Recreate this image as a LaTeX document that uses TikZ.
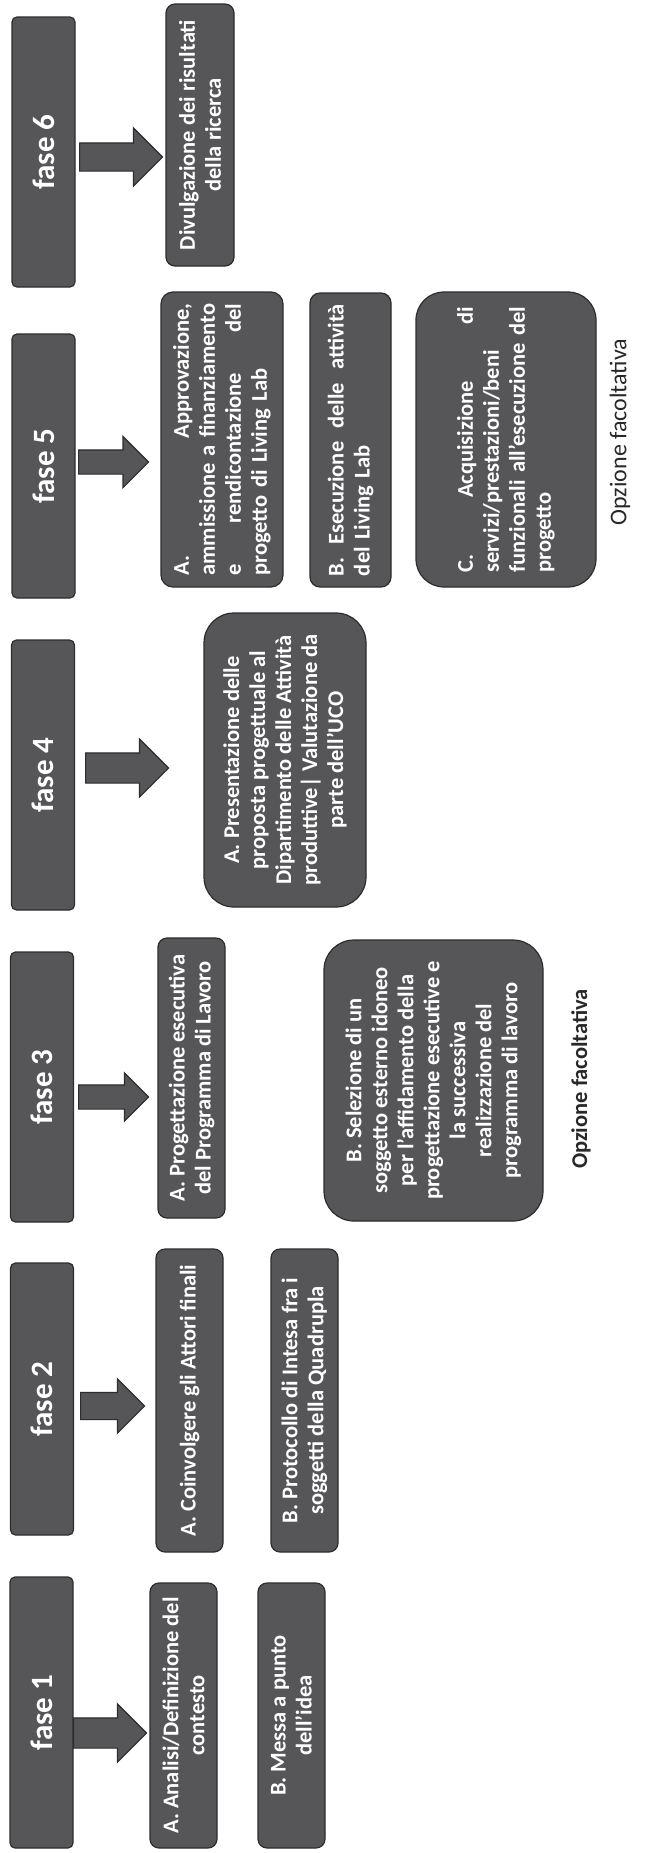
\documentclass[tikz,border=0pt]{standalone}
\usepackage{fontspec}
\setmainfont{Carlito}
\usetikzlibrary{shapes.arrows}
\definecolor{boxfill}{RGB}{86,86,88}
\definecolor{boxline}{RGB}{45,45,48}
\definecolor{notecol}{RGB}{40,40,40}
\begin{document}
\begin{tikzpicture}[x=1pt,y=1pt,
  box/.style={draw=boxline, fill=boxfill, line width=1.2pt, rotate=90, text=white,
    inner sep=0pt, font=\fontsize{22.5}{26}\selectfont\bfseries, align=center},
  fasebox/.style={box, rounded corners=5pt, minimum height=63pt,
    font=\fontsize{31}{36}\selectfont\bfseries},
  smallbox/.style={box, rounded corners=9pt, minimum height=67pt},
  bigbox/.style={box, rounded corners=28pt},
  note/.style={rotate=90, text=notecol, font=\fontsize{22.5}{26}\selectfont\bfseries, inner sep=0pt},
  blockarrow/.style={single arrow, draw=boxline, fill=boxfill, line width=1.2pt,
    inner sep=0pt, single arrow tip angle=90, anchor=tail}
]
\useasboundingbox (0,0) rectangle (649,-1853);
\fill[white] (0,0) rectangle (649,-1853);

% fase boxes
\node[fasebox, minimum width=270pt] (f6) at (43.5,-152) {fase 6};
\node[fasebox, minimum width=264pt] (f5) at (43.5,-466) {fase 5};
\node[fasebox, minimum width=270pt] (f4) at (43,-775) {fase 4};
\node[fasebox, minimum width=270pt] (f3) at (42,-1087) {fase 3};
\node[fasebox, minimum width=272pt] (f2) at (42,-1399) {fase 2};
\node[fasebox, minimum width=271pt] (f1) at (41.5,-1712.5) {fase 1};

% fase 6
\node[smallbox, minimum width=262pt, minimum height=68pt] (t6) at (200,-135) {Divulgazione dei risultati\\della ricerca};

% fase 5
\node[box, rounded corners=12pt, minimum width=295pt, minimum height=122pt, text width=272pt, align=left] (t5a) at (222,-439.5)
  {\makebox[272pt]{A.\hfill Approvazione,}\\\makebox[272pt]{ammissione\hfill a\hfill finanziamento}\\\makebox[272pt]{e\hfill rendicontazione\hfill del}\\progetto di Living Lab};
\node[box, rounded corners=10pt, minimum width=294pt, minimum height=81pt, text width=272pt, align=left] (t5b) at (350.5,-440)
  {\makebox[272pt]{B.\hfill Esecuzione\hfill delle\hfill attività}\\del Living Lab};
\node[bigbox, minimum width=295pt, minimum height=180pt, text width=266pt, align=left] (t5c) at (506,-439.5)
  {\makebox[266pt]{C.\hfill Acquisizione\hfill di}\\servizi/prestazioni/beni\\\makebox[266pt][l]{funzionali all’esecuzione del}\\progetto};
\node[note, font=\fontsize{24}{28}\selectfont] (o5) at (620,-432) {Opzione facoltativa};

% fase 4
\node[bigbox, rounded corners=30pt, minimum width=294pt, minimum height=162pt] (t4a) at (285,-760)
  {A. Presentazione delle\\proposta progettuale al\\Dipartimento delle Attività\\produttive| Valutazione da\\parte dell’UCO};

% fase 3
\node[smallbox, minimum width=280pt] (t3a) at (191.5,-1078) {A. Progettazione esecutiva\\del Programma di Lavoro};
\node[bigbox, rounded corners=30pt, minimum width=281pt, minimum height=219pt] (t3b) at (433.5,-1080.5)
  {B. Selezione di un\\soggetto esterno idoneo\\per l’affidamento della\\progettazione esecutive e\\la successiva\\realizzazione del\\programma di lavoro};
\node[note] (o3) at (581,-1079) {Opzione facoltativa};

% fase 2
\node[smallbox, minimum width=303pt] (t2a) at (189.5,-1400.5) {A. Coinvolgere gli Attori finali};
\node[smallbox, minimum width=303pt] (t2b) at (304.5,-1400.5) {B. Protocollo di Intesa fra i\\soggetti della Quadrupla};

% fase 1
\node[smallbox, minimum width=265pt] (t1a) at (183.5,-1715.5) {A. Analisi/Definizione del\\contesto};
\node[smallbox, minimum width=265pt] (t1b) at (291.5,-1715.5) {B. Messa a punto\\dell’idea};

% block arrows
\node[blockarrow, minimum height=83pt, minimum width=57pt, single arrow head extend=15pt] (a6) at (79,-157) {\rule{0pt}{27pt}};
\node[blockarrow, minimum height=70pt, minimum width=50pt, single arrow head extend=13.5pt] (a5) at (78,-462) {\rule{0pt}{23pt}};
\node[blockarrow, minimum height=83pt, minimum width=57pt, single arrow head extend=14pt] (a4) at (85,-768) {\rule{0pt}{29pt}};
\node[blockarrow, minimum height=70pt, minimum width=47pt, single arrow head extend=12pt] (a3) at (78,-1097) {\rule{0pt}{23pt}};
\node[blockarrow, minimum height=64pt, minimum width=53pt, single arrow head extend=13.5pt] (a2) at (80,-1406) {\rule{0pt}{26pt}};
\node[blockarrow, minimum height=73pt, minimum width=57pt, single arrow head extend=14pt] (a1) at (73,-1733) {\rule{0pt}{29pt}};
\end{tikzpicture}
\end{document}
